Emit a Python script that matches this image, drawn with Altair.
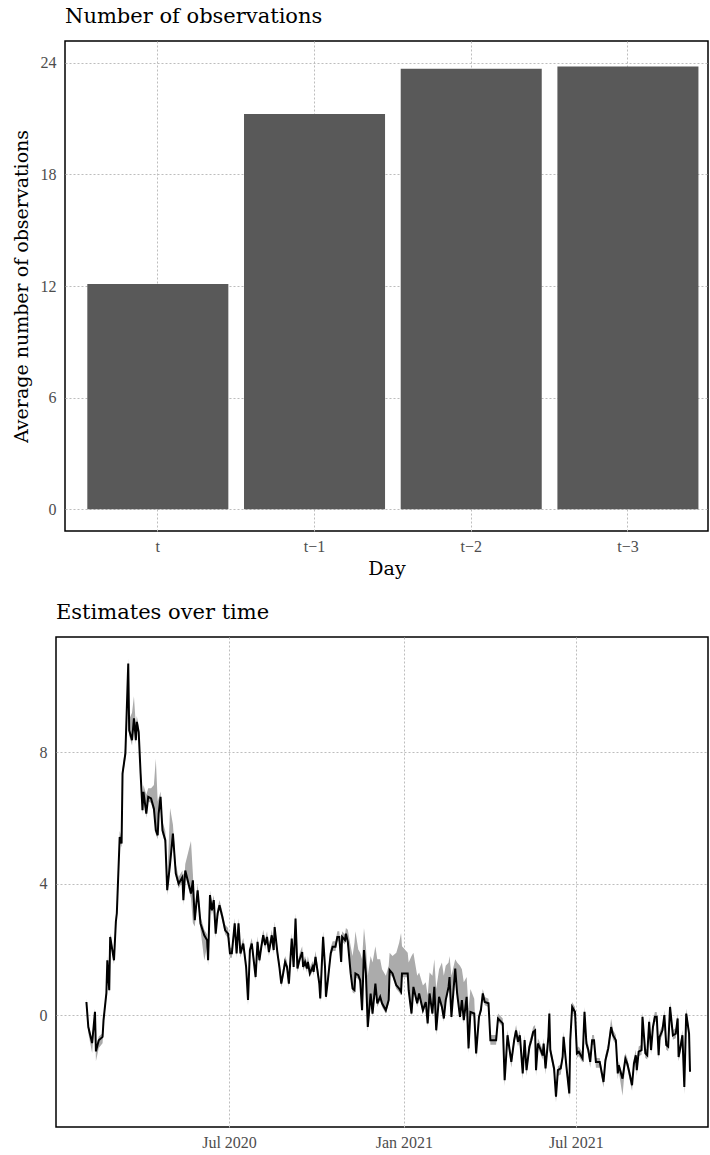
import altair as alt
import pandas as pd

# ---------------- top panel data ----------------
day_labels = ["t", "t\u22121", "t\u22122", "t\u22123"]
avg_obs = [12.11, 21.24, 23.68, 23.80]

# ---------------- bottom panel data ----------------
start_date = "2020-01-01"
# days since start_date
day_offset = [
    32, 34, 38, 41, 42, 45, 49, 50, 53, 54, 56, 57, 61, 63, 64, 67, 69, 70, 73, 76,
    77, 80, 82, 84, 85, 87, 89, 91, 92, 95, 97, 100, 103, 105, 107, 108, 110, 112, 115, 117,
    120, 123, 126, 129, 133, 134, 136, 142, 144, 146, 149, 152, 156, 159, 160, 162, 164, 166, 168, 170,
    172, 175, 178, 181, 183, 185, 188, 190, 192, 194, 197, 200, 202, 204, 206, 208, 210, 212, 214, 216,
    218, 220, 222, 224, 227, 229, 230, 233, 235, 237, 239, 241, 243, 245, 248, 250, 252, 254, 256, 259,
    260, 262, 264, 265, 267, 270, 271, 273, 277, 278, 281, 283, 284, 286, 289, 291, 294, 296, 298, 300,
    301, 304, 305, 307, 310, 312, 314, 315, 318, 320, 322, 324, 326, 328, 331, 333, 336, 338, 341, 343,
    347, 350, 351, 354, 358, 361, 363, 364, 370, 371, 374, 376, 380, 382, 386, 389, 391, 393, 396, 398,
    400, 403, 406, 408, 410, 413, 414, 416, 420, 422, 425, 427, 429, 432, 434, 436, 440, 442, 445, 447,
    449, 451, 455, 457, 463, 465, 470, 472, 475, 479, 482, 484, 486, 488, 491, 493, 495, 498, 500, 502,
    504, 505, 507, 510, 512, 513, 515, 518, 519, 520, 524, 526, 528, 531, 533, 534, 537, 540, 541, 543,
    546, 548, 550, 554, 556, 558, 560, 562, 564, 566, 568, 572, 576, 578, 581, 584, 586, 589, 591, 592,
    596, 599, 601, 603, 606, 608, 610, 611, 613, 616, 617, 620, 622, 624, 626, 628, 630, 632, 634, 635,
    638, 640, 642, 644, 646, 649, 652, 654, 655, 657, 659, 661, 663, 666, 667,
]
estimate = [
    0.40, -0.36, -0.85, 0.10, -1.10, -0.76, -0.66, -0.15, 0.67, 1.67, 0.76, 2.38, 1.67, 2.85, 3.10, 5.42, 5.22, 7.35, 7.96, 10.69,
    8.66, 8.36, 9.03, 8.36, 8.92, 8.61, 7.35, 6.23, 6.79, 6.13, 6.64, 6.59, 6.28, 5.62, 5.47, 6.13, 6.64, 5.62, 5.32, 3.80,
    4.60, 5.52, 4.31, 4.00, 4.20, 3.50, 4.40, 3.70, 4.10, 2.89, 3.80, 2.79, 2.43, 2.28, 1.67, 3.65, 3.19, 3.50, 2.48, 3.09,
    3.34, 2.99, 2.58, 2.48, 1.88, 1.88, 2.79, 1.88, 2.79, 1.88, 2.18, 1.47, 0.46, 1.98, 2.18, 1.67, 1.16, 2.23, 1.67, 2.08,
    2.43, 2.13, 2.38, 1.92, 2.43, 1.98, 2.68, 1.88, 1.47, 0.96, 1.27, 1.62, 1.47, 0.96, 2.33, 1.47, 2.94, 1.42, 1.67, 1.92,
    1.47, 1.62, 1.42, 1.62, 1.27, 1.47, 1.32, 1.77, 0.96, 0.51, 2.38, 1.47, 0.56, 1.06, 1.88, 2.08, 2.08, 2.38, 2.38, 1.62,
    2.38, 2.28, 2.48, 2.23, 1.27, 0.81, 0.76, 1.27, 1.22, 1.06, 0.15, 1.98, 1.27, -0.36, 0.66, 0.05, 0.96, 0.36, 0.56, 0.36,
    0.15, 0.46, 1.37, 1.27, 0.91, 0.81, 0.71, 1.27, 1.27, 0.76, 0.05, 0.86, 0.36, 0.66, 0.15, 0.40, -0.25, 0.66, 0.05, 0.86,
    -0.46, 0.56, 0.25, -0.10, 0.46, 0.86, 1.16, -0.05, 1.42, 0.66, -0.05, 0.46, -0.15, 0.56, -1.01, 0.10, 0.05, -1.16, -0.05, 0.15,
    0.66, 0.40, 0.36, -0.76, -0.76, -0.10, -0.25, -1.98, -0.61, -1.42, -0.76, -0.46, -0.81, -0.61, -1.77, -0.76, -1.67, -0.96, -0.76, -0.51,
    -0.46, -1.67, -0.86, -1.06, -1.22, -0.86, -1.62, -0.66, 0.05, -1.06, -1.62, -2.48, -1.67, -1.62, -1.27, -0.66, -1.57, -2.38, -0.76, 0.25,
    0.10, -1.16, -1.11, -1.32, 0.10, -0.86, -1.06, -1.42, -0.76, -0.76, -1.42, -1.42, -2.03, -1.37, -1.01, -0.36, -0.61, -0.76, -1.77, -1.52,
    -1.93, -1.32, -1.47, -1.72, -2.13, -1.47, -1.22, -1.67, -1.11, -1.06, -0.05, -1.16, -1.22, -0.20, -1.06, -0.36, -0.05, -0.05, -1.22, -0.66,
    -0.46, 0.00, -0.91, -0.96, 0.25, -0.61, -0.56, -0.10, -1.27, -0.96, -0.61, -2.18, 0.05, -0.56, -1.72,
]
band_low = [
    0.30, -0.55, -1.15, -0.10, -1.40, -1.00, -0.85, -0.30, 0.55, 1.55, 0.65, 2.25, 1.55, 2.70, 3.00, 5.30, 5.10, 7.20, 7.80, 10.55,
    8.50, 8.20, 8.90, 8.25, 8.80, 8.50, 7.20, 6.10, 6.65, 6.00, 6.50, 6.45, 6.15, 5.50, 5.35, 6.00, 6.50, 5.50, 5.20, 3.65,
    4.45, 5.40, 4.20, 3.85, 4.05, 3.35, 4.25, 3.55, 2.80, 2.70, 3.60, 2.60, 1.67, 2.10, 1.50, 3.50, 3.05, 3.35, 2.35, 2.95,
    3.20, 2.85, 2.45, 2.35, 1.75, 1.75, 2.65, 1.75, 2.65, 1.75, 2.05, 1.35, 0.30, 1.85, 2.05, 1.55, 1.05, 2.10, 1.55, 1.95,
    2.30, 2.00, 2.25, 1.80, 2.30, 1.85, 2.55, 1.75, 1.35, 0.85, 1.15, 1.50, 1.35, 0.85, 2.20, 1.35, 2.80, 1.30, 1.55, 1.80,
    1.35, 1.50, 1.30, 1.50, 1.15, 1.35, 1.20, 1.65, 0.85, 0.40, 2.25, 1.35, 0.45, 0.95, 1.75, 1.95, 1.95, 2.25, 2.25, 1.50,
    2.25, 2.15, 2.35, 2.10, 1.15, 0.70, 0.65, 1.15, 1.10, 0.95, 0.05, 1.85, 1.15, -0.50, 0.55, -0.05, 0.85, 0.25, 0.45, 0.25,
    0.05, 0.35, 1.25, 1.15, 0.80, 0.70, 0.60, 1.15, 1.15, 0.65, -0.05, 0.75, 0.25, 0.55, 0.05, 0.30, -0.35, 0.55, -0.05, 0.75,
    -0.60, 0.45, 0.15, -0.20, 0.35, 0.75, 1.05, -0.15, 1.30, 0.55, -0.15, 0.35, -0.25, 0.45, -1.15, 0.00, -0.05, -1.30, -0.15, 0.05,
    0.55, 0.30, 0.25, -0.90, -0.90, -0.20, -0.35, -2.15, -0.75, -1.60, -0.90, -0.60, -0.95, -0.75, -1.95, -0.90, -1.85, -1.10, -0.90, -0.65,
    -0.60, -1.85, -1.00, -1.20, -1.35, -1.00, -1.80, -0.80, -0.10, -1.20, -1.80, -2.65, -1.85, -1.80, -1.40, -0.80, -1.75, -2.55, -0.90, 0.10,
    -0.05, -1.30, -1.25, -1.45, -0.05, -1.00, -1.20, -1.60, -0.90, -0.90, -1.60, -1.60, -2.20, -1.50, -1.15, -0.50, -0.75, -0.90, -1.95, -1.70,
    -2.45, -1.45, -1.60, -1.90, -2.30, -1.60, -1.35, -1.85, -1.25, -1.20, -0.20, -1.30, -1.35, -0.35, -1.20, -0.50, -0.20, -0.20, -1.35, -0.80,
    -0.60, -0.15, -1.05, -1.10, 0.10, -0.75, -0.70, -0.25, -1.40, -1.10, -0.75, -2.40, -0.10, -0.70, -1.90,
]
band_high = [
    0.50, -0.25, -0.75, 0.20, -1.00, -0.65, -0.55, -0.05, 0.80, 1.80, 0.90, 2.50, 1.80, 3.00, 3.30, 5.60, 5.40, 7.50, 8.20, 10.85,
    9.00, 9.20, 9.70, 8.80, 9.10, 8.80, 7.60, 6.50, 7.00, 6.70, 6.90, 6.90, 7.00, 7.80, 6.50, 6.60, 6.80, 5.90, 5.60, 4.00,
    6.30, 5.80, 4.60, 4.20, 4.40, 3.70, 4.60, 5.30, 4.30, 3.10, 4.00, 3.00, 2.60, 2.45, 1.85, 3.80, 3.40, 3.65, 2.65, 3.25,
    3.50, 3.15, 2.75, 2.65, 2.05, 2.05, 2.95, 2.05, 2.95, 2.05, 2.35, 1.65, 0.60, 2.15, 2.35, 1.85, 1.35, 2.40, 1.85, 2.25,
    2.60, 2.30, 2.55, 2.10, 2.60, 2.15, 2.85, 2.05, 1.65, 1.15, 1.45, 1.80, 1.65, 1.15, 2.50, 1.65, 3.10, 1.60, 1.85, 2.10,
    1.65, 1.80, 1.60, 1.80, 1.45, 1.65, 1.50, 1.95, 1.15, 0.70, 2.55, 1.65, 0.75, 1.25, 2.05, 2.25, 2.25, 2.55, 2.55, 1.90,
    2.55, 2.45, 2.65, 2.60, 2.10, 1.80, 2.20, 2.55, 2.00, 1.90, 1.70, 2.65, 2.10, 1.20, 1.80, 1.60, 2.10, 1.70, 1.70, 1.40,
    1.20, 1.50, 1.90, 1.80, 1.90, 2.20, 2.50, 2.10, 1.90, 1.60, 1.80, 1.90, 1.20, 1.30, 0.90, 1.00, 0.60, 1.30, 1.20, 1.70,
    0.80, 1.40, 1.60, 1.20, 1.50, 1.60, 1.80, 1.20, 1.70, 1.60, 1.50, 1.40, 1.00, 1.16, 0.20, 0.80, 0.50, -0.90, 0.10, 0.30,
    0.80, 0.55, 0.50, -0.60, -0.60, 0.05, -0.10, -1.85, -0.45, -1.30, -0.60, -0.30, -0.65, -0.45, -1.60, -0.60, -1.55, -0.80, -0.60, -0.35,
    -0.30, -1.55, -0.70, -0.90, -1.05, -0.70, -1.50, -0.50, 0.20, -0.90, -1.50, -2.35, -1.55, -1.50, -1.10, -0.50, -1.45, -2.25, -0.60, 0.40,
    0.25, -1.00, -0.95, -1.15, 0.25, -0.70, -0.90, -1.30, -0.60, -0.60, -1.30, -1.30, -1.90, -1.20, -0.85, -0.10, -0.45, -0.60, -1.65, -1.40,
    -1.80, -1.15, -1.30, -1.60, -2.00, -1.30, -1.05, -1.55, -0.95, -0.90, 0.10, -1.00, -1.05, -0.05, -0.90, -0.20, 0.10, 0.10, -1.05, -0.50,
    -0.30, 0.15, -0.75, -0.80, 0.40, -0.45, -0.40, 0.05, -1.10, -0.80, -0.45, -2.05, 0.20, -0.40, -1.60,
]

SERIF_TITLE = "DejaVu Serif"
SERIF_TICK = "Liberation Serif"

# ---------------- top panel ----------------
bar_df = pd.DataFrame({"day": day_labels, "avg": avg_obs})
bars = (
    alt.Chart(bar_df)
    .mark_bar(color="#595959")
    .encode(
        x=alt.X(
            "day:N",
            sort=day_labels,
            title="Day",
            scale=alt.Scale(paddingInner=0.1, paddingOuter=0.1017, align=0.70),
            axis=alt.Axis(labelAngle=0, grid=True, labelPadding=7, titlePadding=5),
        ),
        y=alt.Y(
            "avg:Q",
            title="Average number of observations",
            scale=alt.Scale(domain=[-1.17, 25.17], nice=False, zero=False),
            axis=alt.Axis(values=[0, 6, 12, 18, 24], titlePadding=9),
        ),
    )
    .properties(width=643, height=490, title="Number of observations")
)

spacer = (
    alt.Chart(pd.DataFrame({"v": [0]}))
    .mark_point(opacity=0)
    .encode(x=alt.value(0), y=alt.value(0))
    .properties(width=9, height=490, view=alt.ViewBackground(stroke="transparent"))
)

top_row = alt.hconcat(spacer, bars, spacing=0, bounds="flush")

# ---------------- bottom panel ----------------
dates = (pd.Timestamp(start_date) + pd.to_timedelta(day_offset, unit="D")).strftime("%Y-%m-%d")
est_df = pd.DataFrame({"date": dates, "est": estimate, "lo": band_low, "hi": band_high})

x_enc = alt.X(
    "date:T",
    title=None,
    scale=alt.Scale(
        type="utc",
        domain=[
            alt.DateTime(year=2020, month=1, date=1, utc=True),
            alt.DateTime(year=2021, month=11, date=16, hours=22, utc=True),
        ],
    ),
    axis=alt.Axis(
        values=[
            alt.DateTime(year=2020, month=7, date=1, utc=True),
            alt.DateTime(year=2021, month=1, date=1, utc=True),
            alt.DateTime(year=2021, month=7, date=1, utc=True),
        ],
        labelExpr="utcFormat(datum.value, '%b %Y')",
        grid=True,
        labelPadding=7,
    ),
)
y_scale = alt.Scale(domain=[-3.4, 11.5], nice=False, zero=False)

band = (
    alt.Chart(est_df)
    .mark_area(color="#ababab")
    .encode(
        x=x_enc,
        y=alt.Y("lo:Q", title=None, scale=y_scale, axis=alt.Axis(values=[0, 4, 8])),
        y2="hi:Q",
    )
)
line = (
    alt.Chart(est_df)
    .mark_line(color="black", strokeWidth=2)
    .encode(x=x_enc, y=alt.Y("est:Q", scale=y_scale))
)
bottom = alt.layer(band, line).properties(width=652, height=490, title="Estimates over time")

chart = (
    alt.vconcat(top_row, bottom, spacing=22)
    .properties(padding={"left": 11, "top": 5, "right": 0, "bottom": 0})
    .configure_view(stroke="black", strokeWidth=1.5)
    .configure_axis(
        domain=False,
        ticks=False,
        labelFont=SERIF_TICK,
        labelFontSize=16,
        labelColor="#4d4d4d",
        labelPadding=9,
        titleFont=SERIF_TITLE,
        titleFontSize=19,
        titleFontWeight="normal",
        titleColor="black",
        gridColor="#bdbdbd",
        gridDash=[2, 2],
        gridWidth=1,
    )
    .configure_title(
        font=SERIF_TITLE,
        fontSize=21,
        fontWeight="normal",
        color="black",
        anchor="start",
        frame="group",
        offset=14,
    )
)

chart.save("out.html", embed_options={"renderer": "svg", "actions": False})
